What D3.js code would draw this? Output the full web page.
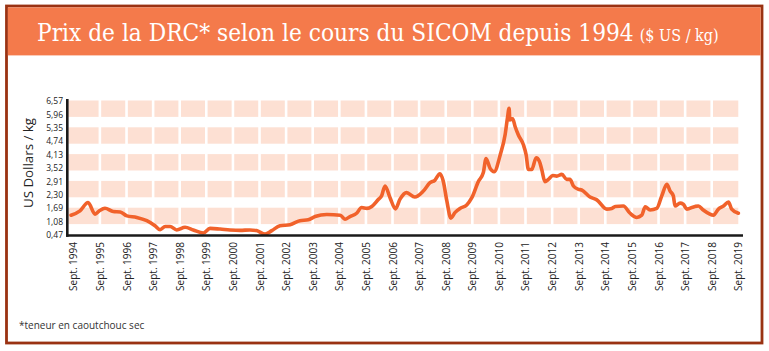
<!DOCTYPE html>
<html>
<head>
<meta charset="utf-8">
<script src="https://cdn.jsdelivr.net/npm/d3@7"></script>
<style>
  html, body { margin: 0; padding: 0; background: #fff; }
  svg { display: block; }
</style>
</head>
<body>
<svg id="chart" width="769" height="351"></svg>
<script>
// ---- DATA ----
const titleMain = "Prix de la DRC* selon le cours du SICOM depuis 1994";
const titleUnit = "($ US / kg)";
const yAxisTitle = "US Dollars / kg";
const footnote = "*teneur en caoutchouc sec";

const yTickValues = [0.47, 1.08, 1.69, 2.30, 2.91, 3.52, 4.13, 4.74, 5.35, 5.96, 6.57];
const xTickYears = d3.range(1994, 2020);
const xTickLabels = xTickYears.map(y => "Sept. " + y);

const dates = [
  "1994-08-01","1994-12-02","1995-03-23","1995-06-27","1995-08-25","1995-11-10",
  "1996-03-02","1996-06-06","1996-09-06","1997-01-19","1997-06-06","1997-09-27",
  "1997-12-06","1998-02-14","1998-04-22","1998-07-22","1998-11-14","1999-03-06",
  "1999-07-22","1999-10-22","2000-03-09","2000-07-22","2000-12-09","2001-04-22",
  "2001-07-22","2001-11-17","2002-02-17","2002-06-09","2002-10-26","2003-03-09",
  "2003-07-01","2003-10-04","2004-03-13","2004-09-13","2004-11-17","2005-01-26",
  "2005-04-26","2005-07-04","2005-09-13","2005-11-21","2006-02-21","2006-04-04",
  "2006-05-21","2006-07-29","2006-10-11","2006-12-13","2007-03-13","2007-07-04",
  "2007-10-29","2008-01-29","2008-04-04","2008-06-13","2008-07-29","2008-09-16",
  "2008-11-10","2009-01-08","2009-03-16","2009-06-16","2009-08-25","2009-11-25",
  "2010-01-29","2010-03-09","2010-05-03","2010-06-27","2010-09-20","2010-11-25",
  "2010-12-27","2011-01-19","2011-01-29","2011-03-09","2011-04-11","2011-05-25",
  "2011-08-03","2011-09-09","2011-10-11","2011-11-25","2012-01-26","2012-03-09",
  "2012-04-11","2012-05-25","2012-07-12","2012-09-09","2012-11-03","2013-01-12",
  "2013-03-20","2013-05-03","2013-06-20","2013-08-28","2013-10-11","2014-02-03",
  "2014-05-07","2014-09-20","2014-11-28","2015-01-15","2015-05-07","2015-08-07",
  "2015-11-07","2016-01-15","2016-03-02","2016-05-07","2016-08-07","2016-10-15",
  "2016-12-24","2017-02-07","2017-03-23","2017-04-15","2017-06-24","2017-08-07",
  "2017-09-24","2018-01-15","2018-03-02","2018-05-07","2018-09-24","2018-12-02",
  "2019-02-10","2019-04-19","2019-06-02","2019-09-02"
];
const prices = [
  1.37,1.57,1.95,1.42,1.57,1.69,
  1.54,1.52,1.34,1.27,1.12,0.89,
  0.71,0.86,0.86,0.70,0.82,0.70,
  0.56,0.77,0.74,0.70,0.68,0.70,
  0.67,0.51,0.67,0.89,0.94,1.12,
  1.16,1.31,1.40,1.37,1.19,1.31,
  1.46,1.72,1.68,1.77,2.10,2.25,
  2.70,2.17,1.66,2.10,2.40,2.20,
  2.47,2.85,2.96,3.26,2.92,2.02,
  1.24,1.50,1.68,1.84,2.17,2.92,
  3.30,3.95,3.50,3.35,4.13,5.03,
  5.79,6.24,5.71,5.76,5.41,5.03,
  4.58,4.13,3.45,3.45,3.98,3.83,
  3.45,2.90,3.00,3.18,3.15,3.23,
  3.00,3.00,2.70,2.55,2.52,2.20,
  2.07,1.65,1.68,1.77,1.79,1.46,
  1.27,1.37,1.75,1.61,1.68,2.25,
  2.78,2.47,2.25,1.79,1.92,1.87,
  1.65,1.77,1.79,1.61,1.37,1.65,
  1.79,1.97,1.65,1.46
];

// ---- CHART ----
const svg = d3.select("#chart");
const parse = d3.timeParse("%Y-%m-%d");
const series = dates.map((d, i) => ({ date: parse(d), value: prices[i] }));
const tickDates = xTickYears.map(y => new Date(y, 8, 1));

const x = d3.scaleTime()
  .domain([tickDates[0], tickDates[tickDates.length - 1]])
  .range([73.3, 738.3]);
const y = d3.scaleLinear()
  .domain([yTickValues[0], yTickValues[yTickValues.length - 1]])
  .range([235, 101]);

const axisLeftX = 67.3, axisRightX = 743, axisTopY = 99;

// frame
svg.append("rect").attr("x", 6.5).attr("y", 6).attr("width", 755.5).attr("height", 337)
  .attr("fill", "#fff").attr("stroke", "#9a3212").attr("stroke-width", 2.8);
// title band
svg.append("rect").attr("x", 7.9).attr("y", 7.4).attr("width", 752.7).attr("height", 48)
  .attr("fill", "#f47a4b");
const title = svg.append("text").attr("x", 37).attr("y", 41)
  .attr("font-family", "'DejaVu Serif Condensed', 'DejaVu Serif', serif")
  .attr("fill", "#fff");
title.append("tspan").attr("font-size", 24.2).text(titleMain);
title.append("tspan").attr("dx", 6).attr("font-size", 16).text(titleUnit);

// background bands
const bandTops = yTickValues.filter((v, i) => (yTickValues.length - 1 - i) % 2 === 0 && i > 0);
const g = svg.append("g");
bandTops.forEach(v => {
  const idx = yTickValues.indexOf(v);
  const next = yTickValues[idx - 1];
  g.append("rect")
    .attr("x", axisLeftX + 1).attr("y", y(v) - 0.5)
    .attr("width", x(tickDates[tickDates.length - 1]) - axisLeftX - 1)
    .attr("height", y(next) - y(v) + 3)
    .attr("fill", "#fde0d3");
});
// white separators
g.selectAll("line.sep").data(tickDates.slice(1, -1)).enter().append("line")
  .attr("x1", d => x(d)).attr("x2", d => x(d))
  .attr("y1", 95).attr("y2", 232)
  .attr("stroke", "#fff").attr("stroke-width", 2.6);

// line
const line = d3.line().x(d => x(d.date)).y(d => y(d.value)).curve(d3.curveMonotoneX);
svg.append("path").datum(series).attr("d", line)
  .attr("fill", "none").attr("stroke", "#f1622b").attr("stroke-width", 3.6)
  .attr("stroke-linejoin", "round").attr("stroke-linecap", "round");

// axes
svg.append("line").attr("x1", axisLeftX).attr("x2", axisLeftX).attr("y1", axisTopY).attr("y2", 236.8)
  .attr("stroke", "#1a1a1a").attr("stroke-width", 2.6);
svg.append("line").attr("x1", axisLeftX - 1.3).attr("x2", axisRightX).attr("y1", 235.5).attr("y2", 235.5)
  .attr("stroke", "#1a1a1a").attr("stroke-width", 2.6);

const fmt = v => v.toFixed(2).replace(".", ",");
const yAxis = d3.axisLeft(y).tickValues(yTickValues).tickSize(0).tickPadding(0).tickFormat(fmt);
const ya = svg.append("g").attr("transform", "translate(63,0)").call(yAxis);
ya.select(".domain").remove();
ya.selectAll("text")
  .attr("font-family", "'Liberation Sans Narrow', 'Open Sans', sans-serif")
  .attr("font-size", 8.5).attr("fill", "#222");

const xAxis = d3.axisBottom(x).tickValues(tickDates).tickSize(0).tickPadding(0)
  .tickFormat((d, i) => xTickLabels[i]);
const xa = svg.append("g").attr("transform", "translate(0,242)").call(xAxis);
xa.select(".domain").remove();
xa.selectAll("text")
  .attr("font-family", "'Liberation Sans Narrow', 'Open Sans', sans-serif")
  .attr("font-size", 10).attr("fill", "#222")
  .attr("text-anchor", "end").attr("dy", "0.35em")
  .attr("transform", "rotate(-90)").attr("x", 0).attr("y", 0);

// y axis title
svg.append("text").attr("transform", "translate(33,163) rotate(-90)")
  .attr("text-anchor", "middle")
  .attr("font-family", "'Open Sans', sans-serif").attr("font-size", 12).attr("fill", "#222")
  .attr("textLength", 90).attr("lengthAdjust", "spacingAndGlyphs")
  .text(yAxisTitle);

// footnote
svg.append("text").attr("x", 19).attr("y", 329)
  .attr("font-family", "'Open Sans', sans-serif").attr("font-size", 10).attr("fill", "#333")
  .text(footnote);
</script>
</body>
</html>
